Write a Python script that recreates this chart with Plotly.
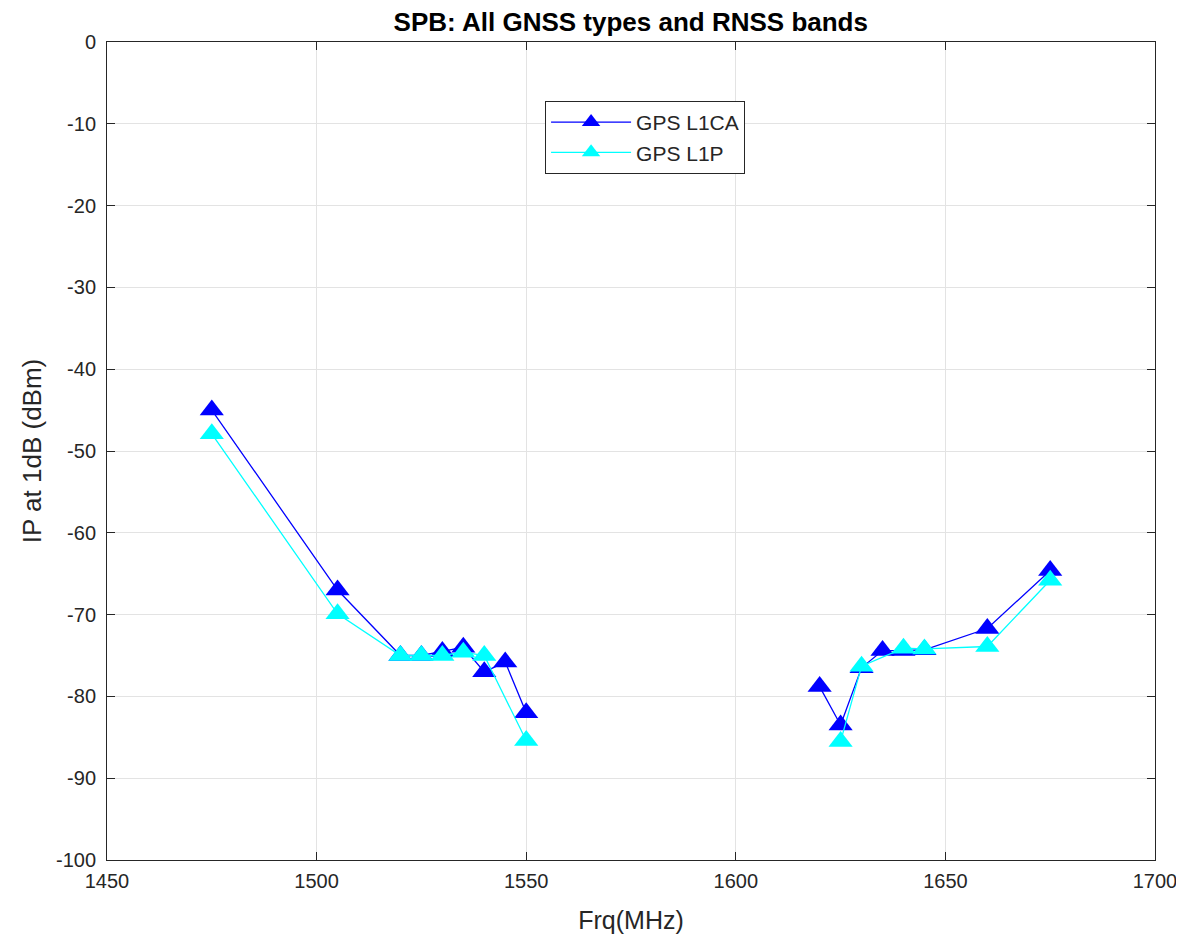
import plotly.graph_objects as go

# GPS L1CA (blue)
l1ca_frq = [1475, 1505, 1520, 1525, 1530, 1535, 1540, 1545, 1550,
            None,
            1620, 1625, 1630, 1635, 1640, 1645, 1660, 1675]
l1ca_ip = [-45, -67, -75, -75, -74.5, -74, -77, -75.8, -82,
           None,
           -78.8, -83.5, -76.5, -74.4, -74.4, -74.3, -71.7, -64.6]

# GPS L1P (cyan)
l1p_frq = [1475, 1505, 1520, 1525, 1530, 1535, 1540, 1550,
           None,
           1625, 1630, 1640, 1645, 1660, 1675]
l1p_ip = [-47.9, -69.9, -75, -75, -75, -74.6, -75, -85.4,
          None,
          -85.5, -76.3, -74.1, -74.2, -73.9, -65.8]

x_ticks = [1450, 1500, 1550, 1600, 1650, 1700]
y_ticks = [0, -10, -20, -30, -40, -50, -60, -70, -80, -90, -100]

title_txt = "SPB: All GNSS types and RNSS bands"
x_label = "Frq(MHz)"
y_label = "IP at 1dB (dBm)"

FONT = "Arial, Liberation Sans, Helvetica, sans-serif"
TXT = "#262626"

fig = go.Figure()
fig.add_trace(go.Scatter(x=l1ca_frq, y=l1ca_ip, name="GPS L1CA",
                         mode="lines+markers", connectgaps=False, legendgroup="a",
                         line=dict(color="#0000ff", width=1.3),
                         marker=dict(symbol="triangle-up", size=21, color="#0000ff")))
fig.add_trace(go.Scatter(x=l1p_frq, y=l1p_ip, name="GPS L1P",
                         mode="lines+markers", connectgaps=False, legendgroup="b",
                         line=dict(color="#00ffff", width=1.3),
                         marker=dict(symbol="triangle-up", size=21, color="#00ffff")))

axis_common = dict(showline=True, linecolor="#262626", linewidth=1, mirror="ticks",
                   ticks="inside", ticklen=8, tickcolor="#262626",
                   showgrid=True, gridcolor="#e3e3e3", gridwidth=1,
                   zeroline=False, tickfont=dict(family=FONT, size=20, color=TXT))

# the page sits 8 px in from the top-left, margins allow for that
fig.update_layout(
    width=1184, height=939,
    paper_bgcolor="white", plot_bgcolor="white",
    margin=dict(l=99, r=37, t=34, b=87),
    title=dict(text="<b>" + title_txt + "</b>", x=0.526, xanchor="center",
               y=0.995, yanchor="top",
               font=dict(family=FONT, size=26, color="black")),
    xaxis=dict(range=[1450, 1700], tickvals=x_ticks,
               ticktext=[str(v) for v in x_ticks], ticklabelstandoff=3,
               title=dict(text=x_label, font=dict(family=FONT, size=25, color=TXT), standoff=20),
               **axis_common),
    yaxis=dict(range=[-100, 0], tickvals=y_ticks,
               ticktext=[str(v) for v in y_ticks], ticklabelstandoff=6,
               title=dict(text=y_label, font=dict(family=FONT, size=26, color=TXT), standoff=6),
               **axis_common),
    legend=dict(x=0.418, y=0.928, xanchor="left", yanchor="top",
                bordercolor="#262626", borderwidth=1, bgcolor="white",
                font=dict(family=FONT, size=21, color=TXT),
                itemwidth=80, tracegroupgap=0),
    showlegend=True,
)

fig.write_html("out.html")
